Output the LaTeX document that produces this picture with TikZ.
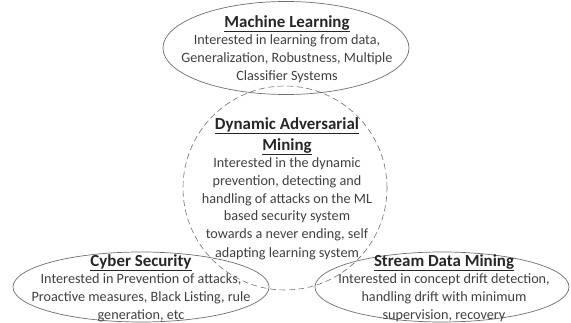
\documentclass[tikz,border=0pt]{standalone}
\usepackage{fontspec}
\setmainfont{Carlito}
\usetikzlibrary{shapes.geometric}
\definecolor{edgegray}{HTML}{6E6E6E}
\definecolor{textgray}{HTML}{404040}
\tikzset{
  field/.style={ellipse, draw=edgegray, line width=0.7pt, inner sep=0pt},
  core/.style={circle, draw=edgegray, dashed, dash pattern=on 6pt off 3.5pt, line width=0.6pt, inner sep=0pt},
  body/.style={align=center, text=textgray, font=\fontsize{14.2}{17.6}\selectfont, inner sep=0pt},
}
\newcommand{\areatitle}[1]{{\fontsize{16.9}{20}\selectfont\bfseries\color{black!85}\underline{#1}}}
\begin{document}
\begin{tikzpicture}[x=1pt,y=-1pt]
	\useasboundingbox (0,0) rectangle (571,323);
	% outer fields
	\node[field, minimum width=246pt, minimum height=93pt] (ml) at (286,48) {};
	\node[field, minimum width=256pt, minimum height=70pt] (cyber) at (141,287) {};
	\node[field, minimum width=254pt, minimum height=70pt] (stream) at (442,287) {};
	% dashed core
	\node[core, minimum size=204pt] (dam) at (285,188) {};
	% texts
	\node[body] (mltext) at (287,49) {\areatitle{Machine Learning}\\Interested in learning from data,\\Generalization, Robustness, Multiple\\Classifier Systems};
	\node[body] (damtext) at (287,189) {\areatitle{Dynamic Adversarial}\\[3pt]\areatitle{Mining}\\Interested in the dynamic\\prevention, detecting and\\handling of attacks on the ML\\based security system\\towards a never ending, self\\[2pt]adapting learning system};
	\node[body] (cybertext) at (141,288) {\areatitle{Cyber Security}\\Interested in Prevention of attacks,\\Proactive measures, Black Listing, rule\\generation, etc};
	\node[body] (streamtext) at (444,288) {\areatitle{Stream Data Mining}\\Interested in concept drift detection,\\handling drift with minimum\\supervision, recovery};
\end{tikzpicture}
\end{document}
